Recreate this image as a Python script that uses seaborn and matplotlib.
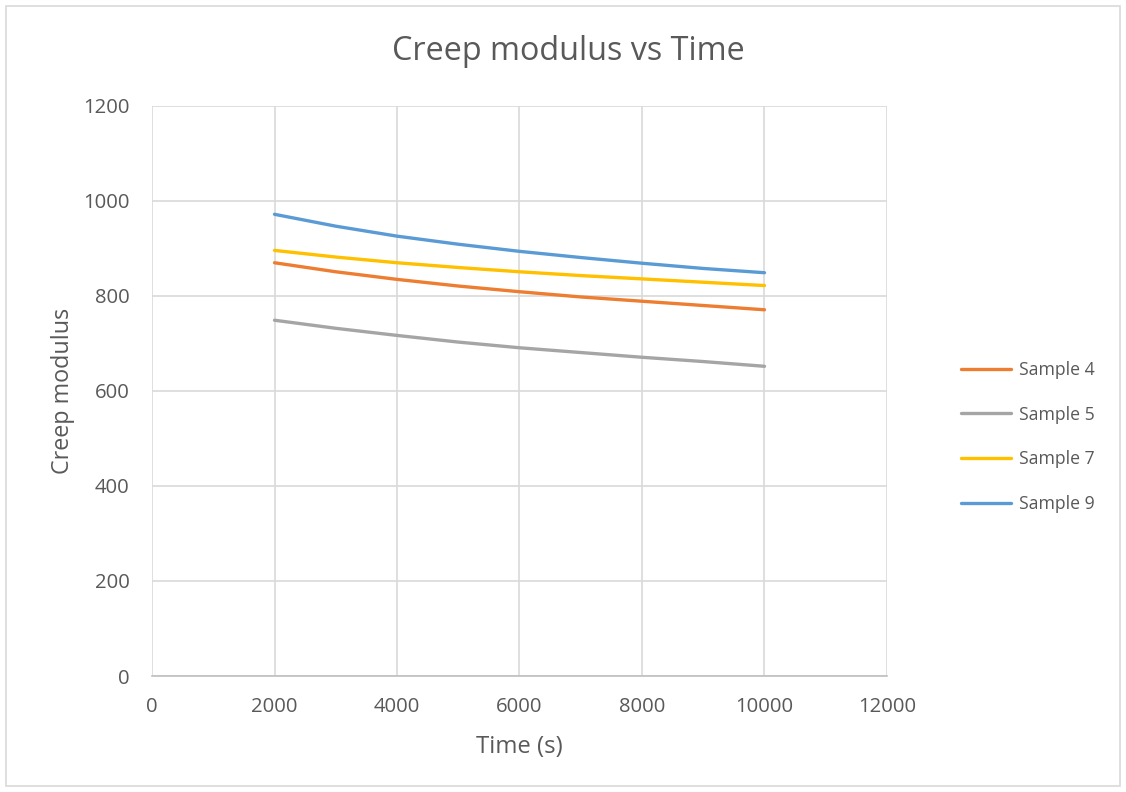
import matplotlib
matplotlib.use("Agg")
import matplotlib.pyplot as plt
from matplotlib.patches import Rectangle
import seaborn as sns
import pandas as pd

time_s = [2000, 3000, 4000, 5000, 6000, 7000, 8000, 9000, 10000]
sample4 = [870, 851, 835, 821, 809, 798, 789, 780, 771]
sample5 = [749, 732, 717, 703, 691, 681, 671, 662, 652]
sample7 = [896, 882, 870, 860, 851, 843, 836, 829, 822]
sample9 = [972, 947, 926, 909, 894, 881, 869, 858, 849]
series_names = ["Sample 4", "Sample 5", "Sample 7", "Sample 9"]
x_ticks = [0, 2000, 4000, 6000, 8000, 10000, 12000]
y_ticks = [0, 200, 400, 600, 800, 1000, 1200]

colors = ["#ED7D31", "#A5A5A5", "#FFC000", "#5B9BD5"]

rows = []
for name, vals in zip(series_names, [sample4, sample5, sample7, sample9]):
    for t, v in zip(time_s, vals):
        rows.append({"Time (s)": t, "Creep modulus": v, "Series": name})
df = pd.DataFrame(rows)

sns.set_theme(style="white")
plt.rcParams["font.family"] = ["Open Sans", "DejaVu Sans"]
text_color = "#595959"

fig = plt.figure(figsize=(11.26, 7.92), dpi=100)
fig.patch.set_facecolor("white")
ax = fig.add_axes([152/1126, 1-676/792, (887-152)/1126, (676-106)/792])

sns.lineplot(data=df, x="Time (s)", y="Creep modulus", hue="Series",
             palette=colors, linewidth=2.4, ax=ax, legend=True)

ax.set_xlim(0, 12000)
ax.set_ylim(0, 1200)
ax.set_xticks(x_ticks)
ax.set_yticks(y_ticks)
ax.set_xticklabels([str(v) for v in x_ticks])
ax.set_yticklabels([str(v) for v in y_ticks])
ax.grid(True, color="#D9D9D9", linewidth=1.2)
ax.set_axisbelow(True)
for s in ["top", "right", "left"]:
    ax.spines[s].set_visible(False)
ax.spines["bottom"].set_color("#BFBFBF")
ax.spines["bottom"].set_linewidth(1.2)
ax.tick_params(axis="both", length=0, labelsize=14.6, colors=text_color)
ax.tick_params(axis="y", pad=16)
ax.tick_params(axis="x", pad=15)

ax.set_xlabel("Time (s)", fontsize=17.2, color=text_color, labelpad=13)
ax.set_ylabel("Creep modulus", fontsize=16.8, color=text_color, labelpad=6)
fig.text(568/1126, 1-51/792, "Creep modulus vs Time", ha="center", va="center",
         fontsize=23.3, color=text_color)

handles, labels = ax.get_legend_handles_labels()
ax.legend(handles, labels, loc="center left", bbox_to_anchor=(945/1126, 1-437/792),
          bbox_transform=fig.transFigure, frameon=False, fontsize=12.7,
          handlelength=2.85, labelspacing=1.52, handletextpad=0.45,
          labelcolor=text_color)

fig.add_artist(Rectangle((6/1126, 6/792), 1114/1126, 780/792, transform=fig.transFigure,
                         fill=False, edgecolor="#D9D9D9", linewidth=1.2))

fig.savefig("out.png", dpi=100, facecolor="white")
